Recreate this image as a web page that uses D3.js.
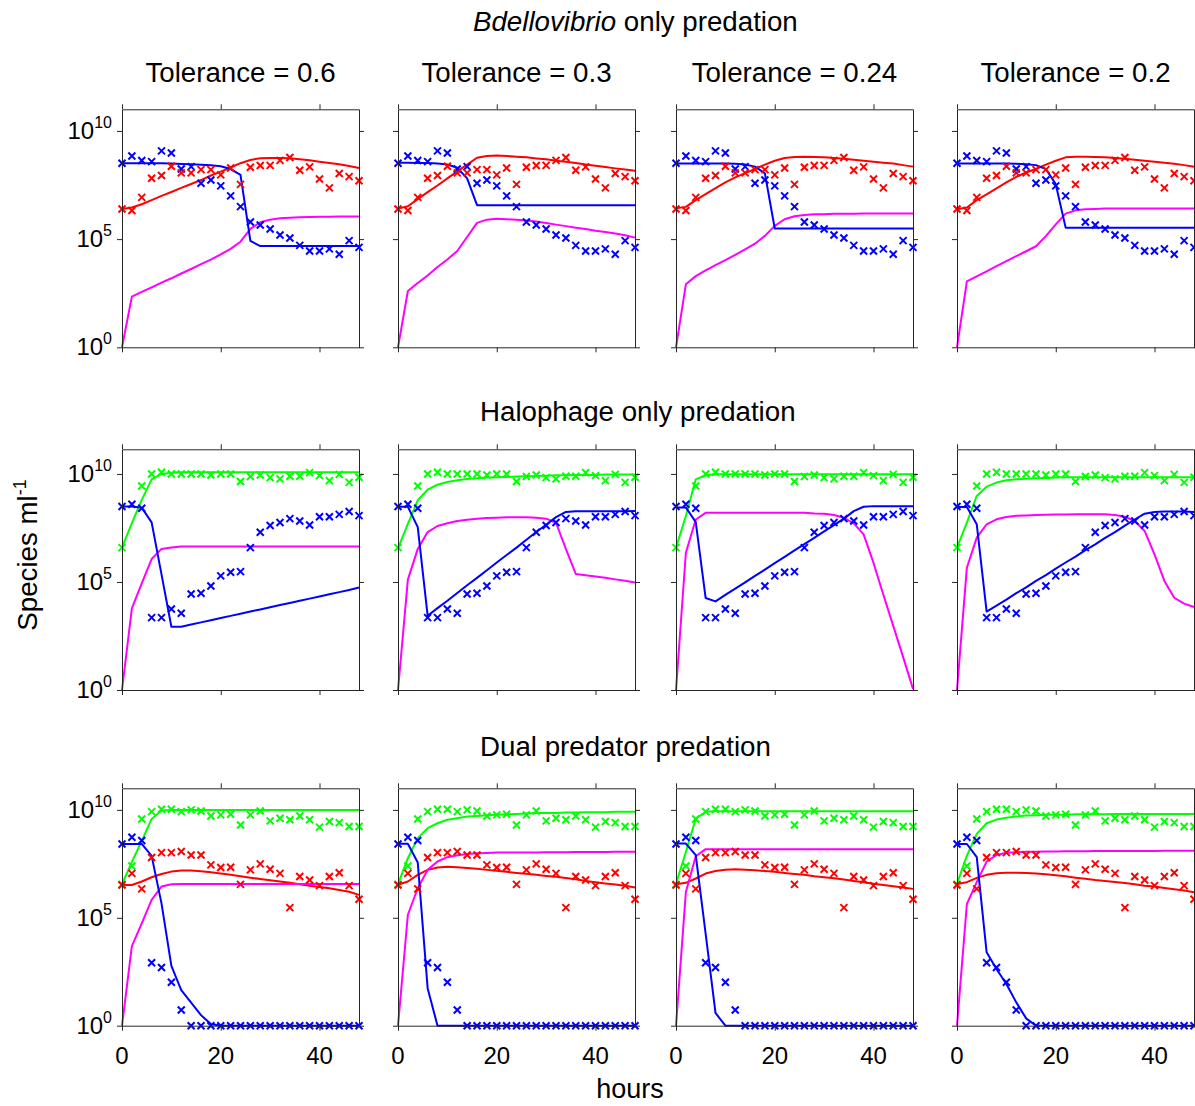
<!DOCTYPE html>
<html>
<head>
<meta charset="utf-8">
<script src="https://cdn.jsdelivr.net/npm/d3@7"></script>
<style>
  body { margin: 0; background: #fff; }
  text { font-family: "Liberation Sans", Arial, Helvetica, sans-serif; fill: #000; }
</style>
</head>
<body>
<svg id="chart" width="1195" height="1106"></svg>
<script>
// sampling times (hours)
const hours = [0, 2, 4, 6, 8, 10, 12, 14, 16, 18, 20, 22, 24, 26, 28, 30, 32, 34, 36, 38, 40, 42, 44, 46, 48];

const tolerances = ['0.6', '0.3', '0.24', '0.2'];
const yTickExps = [0, 5, 10];
const xTicks = [0, 20, 40];

// all values below are log10(species per ml)

// --- row 1: Bdellovibrio only predation (observed)
const r1BlueObs = [8.51, 8.84, 8.63, 8.58, 9.08, 8.98, 8.24, 8.35, 7.58, 7.73, 7.46, 7.00, 6.50, 5.79, 5.65, 5.47, 5.19, 5.05, 4.71, 4.45, 4.45, 4.55, 4.30, 4.93, 4.62];
const r1RedObs = [6.39, 6.32, 6.93, 7.81, 7.94, 8.37, 8.06, 8.06, 8.21, 8.21, 7.97, 8.29, 7.53, 8.32, 8.40, 8.41, 8.64, 8.77, 8.18, 8.34, 7.78, 7.37, 8.03, 7.89, 7.70];

// row 1 model, one array per tolerance
const r1BlueFit = [
  [8.51, 8.51, 8.51, 8.51, 8.51, 8.49, 8.47, 8.46, 8.44, 8.41, 8.37, 8.24, 7.97, 4.92, 4.68, 4.68, 4.68, 4.68, 4.68, 4.68, 4.68, 4.68, 4.68, 4.68, 4.68],
  [8.53, 8.53, 8.52, 8.52, 8.50, 8.45, 8.30, 7.81, 6.57, 6.57, 6.57, 6.57, 6.57, 6.57, 6.57, 6.57, 6.57, 6.57, 6.57, 6.57, 6.57, 6.57, 6.57, 6.57, 6.57],
  [8.50, 8.50, 8.50, 8.50, 8.49, 8.49, 8.48, 8.45, 8.35, 8.04, 5.49, 5.49, 5.49, 5.49, 5.49, 5.49, 5.49, 5.49, 5.49, 5.49, 5.49, 5.49, 5.49, 5.49, 5.49],
  [8.50, 8.50, 8.50, 8.50, 8.49, 8.49, 8.48, 8.46, 8.42, 8.24, 7.54, 5.53, 5.53, 5.53, 5.53, 5.53, 5.53, 5.53, 5.53, 5.53, 5.53, 5.53, 5.53, 5.53, 5.53]
];
const r1RedFit = [
  [6.39, 6.46, 6.61, 6.80, 7.00, 7.18, 7.37, 7.55, 7.73, 7.94, 8.12, 8.31, 8.51, 8.66, 8.74, 8.75, 8.75, 8.74, 8.69, 8.64, 8.58, 8.52, 8.46, 8.38, 8.29],
  [6.41, 6.52, 6.85, 7.17, 7.48, 7.81, 8.13, 8.44, 8.76, 8.84, 8.86, 8.84, 8.81, 8.78, 8.73, 8.69, 8.62, 8.58, 8.52, 8.45, 8.39, 8.33, 8.27, 8.22, 8.16],
  [6.43, 6.49, 6.80, 7.08, 7.36, 7.62, 7.85, 8.05, 8.24, 8.44, 8.62, 8.75, 8.79, 8.81, 8.79, 8.78, 8.75, 8.72, 8.67, 8.62, 8.58, 8.53, 8.49, 8.42, 8.35],
  [6.38, 6.46, 6.80, 7.07, 7.35, 7.62, 7.88, 8.08, 8.24, 8.44, 8.62, 8.78, 8.81, 8.81, 8.79, 8.78, 8.75, 8.72, 8.67, 8.62, 8.58, 8.53, 8.48, 8.42, 8.34]
];
const r1MagentaFit = [
  [0, 2.34, 2.56, 2.77, 2.99, 3.19, 3.41, 3.62, 3.84, 4.05, 4.30, 4.55, 4.88, 5.47, 5.78, 5.90, 5.96, 5.99, 6.01, 6.02, 6.03, 6.03, 6.04, 6.04, 6.04],
  [0, 2.60, 2.97, 3.32, 3.71, 4.06, 4.45, 5.10, 5.75, 5.90, 5.94, 5.92, 5.89, 5.86, 5.81, 5.75, 5.67, 5.60, 5.53, 5.47, 5.39, 5.33, 5.26, 5.18, 5.07],
  [0, 2.91, 3.29, 3.55, 3.80, 4.03, 4.27, 4.53, 4.79, 5.15, 5.61, 5.92, 6.06, 6.12, 6.15, 6.15, 6.17, 6.17, 6.17, 6.18, 6.18, 6.18, 6.18, 6.18, 6.18],
  [0, 3.05, 3.28, 3.51, 3.75, 3.98, 4.21, 4.44, 4.67, 5.14, 5.68, 6.18, 6.33, 6.38, 6.39, 6.41, 6.41, 6.42, 6.42, 6.42, 6.42, 6.42, 6.42, 6.42, 6.42]
];

// --- row 2: Halophage only predation (observed)
const r2GreenObs = [6.59, null, 9.44, 10.0, 10.08, 10.0, 10.0, 10.0, 10.0, 9.95, 10.0, 10.0, 9.65, 9.88, 9.95, 9.83, 9.77, 9.89, 9.89, 10.06, 9.92, 9.69, 9.98, 9.61, 9.85];
const r2BlueObs = [8.49, 8.60, 8.41, 3.35, 3.35, 3.75, 3.55, 4.44, 4.48, 4.81, 5.28, 5.45, 5.48, 6.59, 7.30, 7.61, 7.75, 7.93, 7.82, 7.64, 8.02, 8.02, 8.13, 8.26, 8.07];

const r2GreenFit = [
  [6.59, 7.72, 8.80, 9.75, 10.0, 10.06, 10.08, 10.08, 10.08, 10.08, 10.08, 10.08, 10.08, 10.08, 10.08, 10.08, 10.08, 10.08, 10.08, 10.08, 10.08, 10.08, 10.08, 10.08, 10.08],
  [6.56, 7.69, 8.78, 9.27, 9.50, 9.63, 9.71, 9.77, 9.80, 9.83, 9.85, 9.86, 9.88, 9.89, 9.91, 9.92, 9.94, 9.94, 9.95, 9.95, 9.95, 9.97, 9.97, 9.97, 9.97],
  [6.58, 8.05, 9.75, 9.94, 9.98, 9.98, 9.98, 9.98, 9.98, 9.98, 9.98, 9.98, 9.98, 9.98, 9.98, 9.98, 9.98, 9.98, 9.98, 9.98, 9.98, 9.98, 9.98, 9.98, 9.98],
  [6.59, 7.75, 8.98, 9.41, 9.60, 9.71, 9.75, 9.78, 9.80, 9.81, 9.83, 9.85, 9.85, 9.85, 9.85, 9.85, 9.85, 9.85, 9.85, 9.85, 9.85, 9.85, 9.85, 9.85, 9.85]
];
const r2BlueFit = [
  [8.49, 8.49, 8.44, 7.76, 5.35, 2.93, 2.93, 3.03, 3.13, 3.23, 3.33, 3.43, 3.53, 3.63, 3.73, 3.83, 3.93, 4.03, 4.13, 4.23, 4.33, 4.43, 4.53, 4.63, 4.74],
  [8.48, 8.48, 7.54, 3.44, 3.79, 4.13, 4.49, 4.85, 5.19, 5.54, 5.90, 6.25, 6.59, 6.95, 7.31, 7.65, 8.00, 8.24, 8.27, 8.27, 8.27, 8.27, 8.27, 8.27, 8.29],
  [8.45, 8.45, 7.77, 4.26, 4.10, 4.40, 4.69, 4.98, 5.28, 5.57, 5.87, 6.16, 6.46, 6.75, 7.04, 7.34, 7.63, 7.93, 8.28, 8.48, 8.51, 8.51, 8.51, 8.51, 8.51],
  [8.47, 8.47, 7.67, 3.63, 3.90, 4.18, 4.48, 4.75, 5.05, 5.32, 5.62, 5.90, 6.17, 6.47, 6.74, 7.04, 7.31, 7.61, 7.89, 8.16, 8.24, 8.26, 8.26, 8.26, 8.24]
];
const r2MagentaFit = [
  [0, 3.78, 4.94, 6.06, 6.53, 6.60, 6.64, 6.64, 6.64, 6.64, 6.64, 6.64, 6.64, 6.64, 6.64, 6.64, 6.64, 6.64, 6.64, 6.64, 6.64, 6.64, 6.64, 6.64, 6.64],
  [0, 5.11, 6.53, 7.31, 7.59, 7.72, 7.82, 7.88, 7.93, 7.96, 7.97, 7.99, 7.99, 7.99, 7.97, 7.93, 7.74, 6.53, 5.37, 5.31, 5.25, 5.19, 5.12, 5.06, 4.98],
  [0, 6.35, 7.89, 8.20, 8.20, 8.20, 8.20, 8.20, 8.20, 8.20, 8.20, 8.20, 8.20, 8.20, 8.17, 8.16, 8.10, 7.97, 7.71, 7.20, 5.88, 4.41, 2.97, 1.52, 0.05],
  [0, 5.66, 7.05, 7.67, 7.90, 8.01, 8.06, 8.08, 8.10, 8.11, 8.12, 8.12, 8.13, 8.13, 8.13, 8.13, 8.10, 8.02, 7.82, 7.36, 6.28, 5.05, 4.27, 4.00, 3.84]
];

// --- row 3: Dual predator predation (observed)
const r3GreenObs = [6.55, 7.40, 9.58, 9.92, 10.03, 10.03, 9.92, 10.0, 9.95, 9.72, 9.77, 9.80, 9.30, 9.77, 9.95, 9.49, 9.61, 9.54, 9.72, 9.54, 9.20, 9.46, 9.41, 9.23, 9.23];
const r3RedObs = [6.52, 7.06, 6.34, 7.79, 8.02, 8.02, 8.07, 7.91, 7.91, 7.45, 7.33, 7.34, 6.55, 7.22, 7.50, 7.25, 7.06, 5.47, 6.91, 6.75, 6.49, 6.91, 7.09, 6.49, 5.86];
const r3BlueObs = [8.42, 8.73, 8.58, 2.92, 2.70, 2.01, 0.73, 0, 0, 0, 0, 0, 0, 0, 0, 0, 0, 0, 0, 0, 0, 0, 0, 0, 0];

const r3GreenFit = [
  [6.55, 7.59, 8.56, 9.58, 9.97, 10.0, 10.0, 10.0, 10.0, 10.0, 10.0, 10.0, 10.0, 10.0, 10.0, 10.0, 10.0, 10.0, 10.0, 10.0, 10.0, 10.0, 10.0, 10.0, 10.0],
  [6.56, 7.76, 8.69, 9.15, 9.38, 9.54, 9.61, 9.69, 9.72, 9.75, 9.78, 9.80, 9.81, 9.83, 9.85, 9.86, 9.86, 9.88, 9.88, 9.89, 9.89, 9.89, 9.91, 9.91, 9.91],
  [6.58, 8.05, 9.60, 9.91, 9.94, 9.94, 9.94, 9.94, 9.94, 9.94, 9.94, 9.94, 9.94, 9.94, 9.94, 9.94, 9.94, 9.94, 9.94, 9.94, 9.94, 9.94, 9.94, 9.94, 9.94],
  [6.57, 7.88, 8.89, 9.38, 9.55, 9.64, 9.69, 9.74, 9.75, 9.77, 9.78, 9.78, 9.80, 9.80, 9.80, 9.80, 9.81, 9.81, 9.81, 9.81, 9.81, 9.81, 9.81, 9.81, 9.81]
];
const r3RedFit = [
  [6.52, 6.52, 6.68, 6.88, 7.03, 7.14, 7.19, 7.19, 7.16, 7.11, 7.05, 6.99, 6.92, 6.86, 6.80, 6.74, 6.68, 6.62, 6.55, 6.49, 6.43, 6.37, 6.29, 6.21, 6.06],
  [6.53, 6.68, 6.99, 7.22, 7.33, 7.36, 7.34, 7.31, 7.27, 7.22, 7.18, 7.13, 7.08, 7.04, 6.99, 6.94, 6.90, 6.84, 6.79, 6.71, 6.65, 6.59, 6.54, 6.48, 6.40],
  [6.55, 6.62, 6.82, 7.05, 7.17, 7.23, 7.25, 7.23, 7.20, 7.17, 7.13, 7.08, 7.03, 6.99, 6.92, 6.88, 6.83, 6.77, 6.71, 6.65, 6.58, 6.52, 6.46, 6.40, 6.34],
  [6.57, 6.65, 6.85, 6.99, 7.06, 7.09, 7.09, 7.08, 7.05, 7.02, 6.97, 6.92, 6.86, 6.81, 6.75, 6.71, 6.66, 6.61, 6.55, 6.49, 6.45, 6.38, 6.32, 6.26, 6.18]
];
const r3MagentaFit = [
  [0, 3.69, 4.74, 5.83, 6.45, 6.55, 6.57, 6.57, 6.57, 6.57, 6.57, 6.57, 6.57, 6.57, 6.57, 6.57, 6.57, 6.57, 6.57, 6.57, 6.57, 6.57, 6.57, 6.57, 6.57],
  [0, 5.14, 6.37, 7.22, 7.61, 7.81, 7.90, 7.96, 7.99, 8.00, 8.02, 8.02, 8.03, 8.03, 8.03, 8.04, 8.04, 8.04, 8.05, 8.05, 8.05, 8.05, 8.06, 8.06, 8.06],
  [0, 6.20, 7.85, 8.18, 8.18, 8.18, 8.18, 8.18, 8.18, 8.18, 8.18, 8.18, 8.18, 8.18, 8.18, 8.18, 8.18, 8.18, 8.18, 8.18, 8.18, 8.18, 8.18, 8.18, 8.18],
  [0, 5.64, 6.65, 7.60, 7.91, 8.01, 8.04, 8.06, 8.06, 8.07, 8.07, 8.08, 8.08, 8.08, 8.09, 8.09, 8.09, 8.10, 8.10, 8.10, 8.10, 8.11, 8.11, 8.11, 8.11]
];
const r3BlueFit = [
  [8.42, 8.42, 8.42, 7.87, 5.67, 2.77, 1.65, 1.07, 0.49, 0.08, 0, 0, 0, 0, 0, 0, 0, 0, 0, 0, 0, 0, 0, 0, 0],
  [8.43, 8.43, 7.56, 1.74, 0, 0, 0, 0, 0, 0, 0, 0, 0, 0, 0, 0, 0, 0, 0, 0, 0, 0, 0, 0, 0],
  [8.44, 8.44, 7.90, 4.27, 0.59, 0, 0, 0, 0, 0, 0, 0, 0, 0, 0, 0, 0, 0, 0, 0, 0, 0, 0, 0, 0],
  [8.42, 8.42, 7.81, 3.40, 2.63, 1.93, 1.08, 0.34, 0, 0, 0, 0, 0, 0, 0, 0, 0, 0, 0, 0, 0, 0, 0, 0, 0]
];

const colors = { blue: '#0000ff', red: '#ff0000', magenta: '#ff00ff', green: '#00ff00' };

// layout
const colLeft = [122, 398, 676, 957];
const panelW = 237;
const rowTop = [109.3, 449.3, 788.3];
const rowBottom = [347.3, 690, 1025.7];
const rowTopExp = [11, 11.14, 11];

const rows = [
  { fits: [['red', r1RedFit], ['magenta', r1MagentaFit], ['blue', r1BlueFit]],
    obs: [['blue', r1BlueObs], ['red', r1RedObs]] },
  { fits: [['green', r2GreenFit], ['magenta', r2MagentaFit], ['blue', r2BlueFit]],
    obs: [['green', r2GreenObs], ['blue', r2BlueObs]] },
  { fits: [['green', r3GreenFit], ['red', r3RedFit], ['magenta', r3MagentaFit], ['blue', r3BlueFit]],
    obs: [['green', r3GreenObs], ['red', r3RedObs], ['blue', r3BlueObs]] }
];

const svg = d3.select('#chart');
svg.append('rect').attr('width', 1195).attr('height', 1106).attr('fill', '#fff');

const axisColor = '#262626';
const tickLen = 5;
const titleSize = '27.7px';

rows.forEach((row, ri) => {
  colLeft.forEach((left, ci) => {
    const x = d3.scaleLinear().domain([0, 48]).range([left, left + panelW]);
    const y = d3.scaleLog().domain([1, Math.pow(10, rowTopExp[ri])]).range([rowBottom[ri], rowTop[ri]]);
    const g = svg.append('g').attr('class', `panel r${ri} c${ci}`);

    // model lines
    const line = d3.line()
      .x((d, i) => x(hours[i]))
      .y(d => y(Math.pow(10, d)));
    row.fits.forEach(([c, arr]) => {
      g.append('path')
        .attr('d', line(arr[ci]))
        .attr('fill', 'none')
        .attr('stroke', colors[c])
        .attr('stroke-width', 2)
        .attr('stroke-linejoin', 'round');
    });

    // observed points as x markers
    row.obs.forEach(([c, arr]) => {
      const pts = arr.map((v, i) => [hours[i], v]).filter(d => d[1] !== null);
      g.selectAll(null)
        .data(pts)
        .join('path')
        .attr('d', d => {
          const px = x(d[0]), py = y(Math.pow(10, d[1])), s = 3.5;
          return `M${px - s},${py - s}L${px + s},${py + s}M${px - s},${py + s}L${px + s},${py - s}`;
        })
        .attr('stroke', colors[c])
        .attr('stroke-width', 2)
        .attr('fill', 'none');
    });

    // axes box with outward ticks on all sides
    const axG = g.append('g');
    const axBottom = d3.axisBottom(x).tickValues(xTicks).tickSizeInner(tickLen).tickSizeOuter(0).tickFormat('');
    const axTop = d3.axisTop(x).tickValues(xTicks).tickSizeInner(tickLen).tickSizeOuter(0).tickFormat('');
    const yVals = yTickExps.map(e => Math.pow(10, e));
    const axLeft = d3.axisLeft(y).tickValues(yVals).tickSizeInner(tickLen).tickSizeOuter(0).tickFormat('');
    const axRight = d3.axisRight(y).tickValues(yVals).tickSizeInner(tickLen).tickSizeOuter(0).tickFormat('');
    axG.append('g').attr('transform', `translate(0,${rowBottom[ri]})`).call(axBottom);
    axG.append('g').attr('transform', `translate(0,${rowTop[ri]})`).call(axTop);
    axG.append('g').attr('transform', `translate(${left},0)`).call(axLeft);
    axG.append('g').attr('transform', `translate(${left + panelW},0)`).call(axRight);
    axG.selectAll('path.domain, line').attr('stroke', axisColor).attr('stroke-width', 1);

    // y tick labels on first column
    if (ci === 0) {
      yTickExps.forEach(e => {
        const t = g.append('text')
          .attr('x', left - 10)
          .attr('y', y(Math.pow(10, e)) + 8)
          .attr('text-anchor', 'end')
          .style('font-size', '24px');
        t.append('tspan').text('10');
        t.append('tspan').attr('dy', -11).style('font-size', '16px').text(e);
      });
    }
    // x tick labels on bottom row
    if (ri === 2) {
      xTicks.forEach(v => {
        g.append('text')
          .attr('x', x(v))
          .attr('y', rowBottom[ri] + 38)
          .attr('text-anchor', 'middle')
          .style('font-size', '24px')
          .text(v);
      });
    }
    // column titles
    if (ri === 0) {
      g.append('text')
        .attr('x', left + panelW / 2)
        .attr('y', 82)
        .attr('text-anchor', 'middle')
        .style('font-size', titleSize)
        .text(`Tolerance = ${tolerances[ci]}`);
    }
  });
});

// row titles
const t1 = svg.append('text').attr('x', 473).attr('y', 31).style('font-size', titleSize);
t1.append('tspan').style('font-style', 'italic').text('Bdellovibrio');
t1.append('tspan').text(' only predation');
svg.append('text').attr('x', 480).attr('y', 421).style('font-size', titleSize).text('Halophage only predation');
svg.append('text').attr('x', 480).attr('y', 756).style('font-size', titleSize).text('Dual predator predation');

// axis labels
const yl = svg.append('text')
  .attr('transform', 'translate(37,555) rotate(-90)')
  .attr('text-anchor', 'middle')
  .style('font-size', titleSize);
yl.append('tspan').text('Species ml');
yl.append('tspan').attr('dy', -11).style('font-size', '18px').text('-1');

svg.append('text')
  .attr('x', 630)
  .attr('y', 1098)
  .attr('text-anchor', 'middle')
  .style('font-size', '27px')
  .text('hours');
</script>
</body>
</html>
